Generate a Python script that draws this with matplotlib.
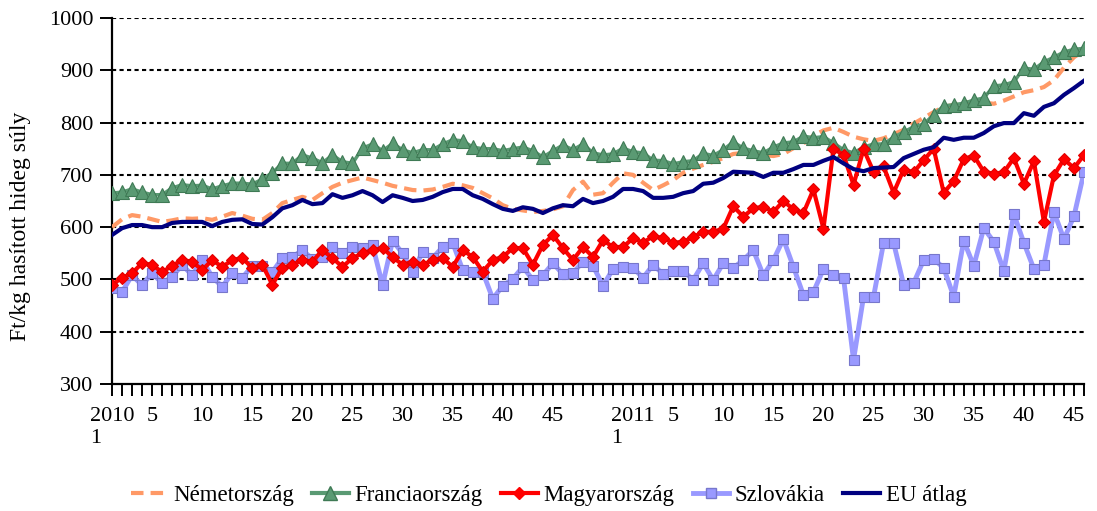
import matplotlib
matplotlib.use("Agg")
from matplotlib import pyplot as plt
from matplotlib.lines import Line2D
import numpy as np

# weekly prices 2010 wk1 .. 2011 wk46 (Ft/kg)
weeks_2010 = list(range(1, 53))
weeks_2011 = list(range(1, 47))
labelled_weeks = [5, 10, 15, 20, 25, 30, 35, 40, 45]

nemetorszag = [600, 615, 623, 620, 615, 610, 613, 617, 616, 617,
               614, 620, 627, 622, 616, 614, 627, 646, 652, 658,
               652, 665, 677, 685, 690, 695, 690, 685, 679, 675,
               671, 670, 672, 677, 683, 680, 675, 665, 655, 642,
               635, 632, 629, 631, 634, 640, 671, 687, 662, 665,
               685, 703, 700, 685, 671, 680, 690, 704, 712, 719,
               725, 732, 740, 742, 740, 738, 736, 740, 751, 760,
               775, 785, 790, 782, 773, 768, 765, 770, 778, 786,
               798, 809, 820, 830, 834, 838, 840, 838, 836, 842,
               850, 858, 862, 868, 881, 905, 925, 938]

franciaorszag = [665, 667, 673, 667, 662, 662, 675, 681, 679, 680,
                 673, 679, 684, 684, 682, 692, 704, 722, 722, 738,
                 732, 723, 738, 725, 722, 751, 759, 746, 760, 748,
                 742, 748, 748, 759, 767, 765, 753, 750, 750, 746,
                 750, 753, 746, 734, 746, 757, 748, 759, 742, 738,
                 740, 751, 744, 742, 728, 727, 721, 725, 727, 741,
                 737, 748, 763, 751, 746, 742, 753, 761, 763, 774,
                 771, 773, 761, 748, 742, 753, 759, 759, 772, 782,
                 792, 797, 815, 832, 834, 837, 843, 847, 870, 872,
                 878, 904, 902, 916, 925, 935, 940, 942]

magyarorszag = [490, 503, 512, 531, 528, 514, 526, 537, 534, 518,
                537, 524, 537, 541, 522, 528, 490, 522, 528, 537,
                534, 556, 541, 524, 541, 550, 556, 560, 543, 528,
                534, 528, 537, 541, 524, 556, 543, 515, 537, 543,
                560, 560, 528, 566, 585, 560, 537, 562, 543, 575,
                562, 562, 579, 570, 583, 579, 570, 572, 581, 591,
                591, 597, 640, 620, 636, 639, 629, 650, 634, 627,
                672, 597, 750, 738, 681, 749, 706, 716, 666, 710,
                705, 728, 750, 666, 688, 730, 737, 706, 702, 705,
                732, 683, 726, 610, 699, 730, 713, 738]

szlovakia = [484, 476, 508, 489, 512, 493, 505, 528, 508, 537,
             505, 486, 512, 503, 526, 526, 514, 541, 543, 556,
             539, 543, 562, 550, 562, 560, 566, 489, 574, 550,
             514, 553, 541, 562, 570, 518, 514, 514, 463, 488,
             501, 524, 499, 508, 531, 510, 512, 534, 526, 488,
             520, 524, 522, 503, 528, 510, 516, 516, 499, 531,
             499, 531, 522, 537, 556, 508, 537, 577, 524, 470,
             476, 520, 508, 503, 346, 467, 467, 570, 570, 490,
             493, 537, 539, 522, 467, 574, 526, 598, 572, 516,
             625, 570, 520, 528, 629, 577, 621, 705]

eu_atlag = [585, 598, 604, 604, 600, 600, 608, 610, 610, 610,
            602, 610, 614, 615, 606, 605, 619, 636, 642, 652,
            644, 646, 663, 656, 661, 669, 661, 648, 661, 656,
            650, 652, 658, 667, 673, 673, 661, 654, 644, 635,
            631, 638, 635, 627, 636, 642, 640, 654, 646, 650,
            658, 673, 673, 669, 656, 656, 658, 665, 669, 683,
            685, 694, 706, 705, 704, 696, 704, 704, 711, 719,
            719, 727, 734, 722, 711, 707, 713, 714, 715, 732,
            740, 748, 753, 771, 767, 771, 771, 780, 793, 799,
            799, 818, 813, 830, 837, 853, 866, 880]

labels = []
for y, ws in ((2010, weeks_2010), (2011, weeks_2011)):
    for w in ws:
        if w == 1:
            labels.append("%d\n1" % y)
        elif w in labelled_weeks:
            labels.append(str(w))
        else:
            labels.append("")

plt.rcParams['font.family'] = ['Liberation Serif', 'DejaVu Serif']

fig = plt.figure(figsize=(10.97, 5.11), dpi=100)
ax = fig.add_axes([112 / 1097, 1 - 384 / 511, 972 / 1097, 366 / 511])

x = np.arange(len(labels))

ax.plot(x, nemetorszag, color='#FF9966', lw=3, dashes=(3, 1.7), zorder=3)
ax.plot(x, franciaorszag, color='#5A9A73', lw=2.5, marker='^', ms=9.5,
        mfc='#5A9A73', mec='#3F7A55', mew=0.8, zorder=4)
ax.plot(x, magyarorszag, color='#FF0000', lw=3, marker='D', ms=6.5,
        mfc='#FF0000', mec='#E00000', mew=0.8, zorder=5)
ax.plot(x, szlovakia, color='#9999FF', lw=3.5, marker='s', ms=7.5,
        mfc='#9999FF', mec='#7777CC', mew=0.8, zorder=4)
ax.plot(x, eu_atlag, color='#000080', lw=3, zorder=6)

ax.set_xlim(0, len(labels) - 1)
ax.set_ylim(300, 1000)
ax.set_yticks(range(300, 1001, 100))
ax.set_xticks(x)
ax.set_xticklabels(labels, multialignment='left')
ax.tick_params(axis='both', direction='out', length=8.5, width=1.4, labelsize=16)
ax.tick_params(axis='x', pad=8)
ax.tick_params(axis='y', pad=5)

for v in range(400, 1001, 100):
    ax.axhline(v, color='black', lw=1.5, ls=(0, (2, 1.6)), zorder=1)

for s in ('top', 'right'):
    ax.spines[s].set_visible(False)
for s in ('left', 'bottom'):
    ax.spines[s].set_linewidth(1.6)

ax.set_ylabel("Ft/kg hasított hideg súly", fontsize=17)
ax.yaxis.set_label_coords(-0.083, 0.43)

handles = [
    Line2D([], [], color='#FF9966', lw=3, dashes=(3, 1.7)),
    Line2D([], [], color='#5A9A73', lw=3, marker='^', ms=9.5, mec='#3F7A55'),
    Line2D([], [], color='#FF0000', lw=3, marker='D', ms=6.5),
    Line2D([], [], color='#9999FF', lw=3.5, marker='s', ms=7.5, mec='#7777CC'),
    Line2D([], [], color='#000080', lw=3),
]
names = ["Németország", "Franciaország", "Magyarország", "Szlovákia", "EU átlag"]
fig.legend(handles, names, loc='center', bbox_to_anchor=(0.5, 1 - 495 / 511),
           ncol=5, frameon=False, fontsize=16.5, handlelength=1.6,
           handletextpad=0.25, columnspacing=0.8)

fig.savefig("out.png", dpi=100)
